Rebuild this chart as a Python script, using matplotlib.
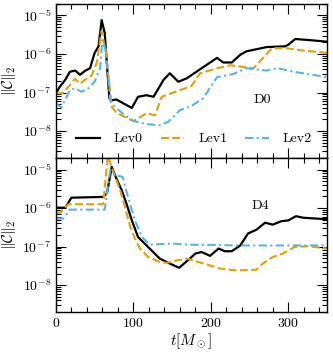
import numpy as np
import matplotlib
matplotlib.use("Agg")
import matplotlib.pyplot as plt
from matplotlib.ticker import MultipleLocator, LogLocator, NullFormatter

plt.rcParams['font.family'] = 'cmr10'
plt.rcParams['mathtext.fontset'] = 'cm'
plt.rcParams['axes.formatter.use_mathtext'] = True
plt.rcParams['font.size'] = 10

#colors for the three resolutions
c_lev0 = 'black'
c_lev1 = '#E69F00'
c_lev2 = '#56B4E9'

# D0 panel (log10 of constraint norm)
t_d0_lev0 = [0, 5, 12, 18, 25, 31, 38, 44, 50, 55, 59, 63, 66, 69, 72, 78, 87, 98, 106, 117,
             126, 139, 147, 158, 169, 188, 208, 216, 227, 238, 246, 272, 296, 300, 309, 328, 350]
log_d0_lev0 = [-7.02, -6.85, -6.67, -6.46, -6.43, -6.54, -6.43, -6.37, -5.97, -5.80, -5.12, -5.45,
               -6.32, -7.15, -7.20, -7.18, -7.28, -7.40, -7.11, -7.07, -7.11, -6.67, -6.50, -6.72,
               -6.63, -6.37, -6.10, -6.22, -6.22, -6.02, -5.93, -5.82, -5.80, -5.76, -5.61, -5.64, -5.68]

t_d0_lev1 = [0, 8, 18, 24.5, 31, 37.5, 46, 52.6, 59, 64.6, 72, 78.4, 100, 117, 128, 136.6,
             160, 175, 186, 208, 225, 255, 279, 298, 315, 350]
log_d0_lev1 = [-7.02, -7.02, -6.81, -6.64, -6.77, -6.67, -6.56, -6.23, -5.40, -5.97, -7.37, -7.53,
               -7.74, -7.54, -7.59, -7.11, -6.94, -6.83, -6.50, -6.37, -6.29, -6.37, -5.85, -5.85,
               -5.90, -5.97]

t_d0_lev2 = [0, 7, 18, 24.5, 33, 42, 50, 57, 60, 64.6, 70, 76, 89, 100, 117, 134, 145, 160,
             175, 190, 208, 229, 246, 272, 287, 307, 350]
log_d0_lev2 = [-7.28, -7.39, -6.94, -6.89, -6.98, -6.89, -6.72, -6.37, -5.64, -5.90, -7.21, -7.37,
               -7.59, -7.74, -7.82, -7.85, -7.76, -7.46, -7.35, -7.15, -6.60, -6.52, -6.37, -6.43,
               -6.37, -6.46, -6.60]

# D4 panel
t_d4_lev0 = [0, 12, 20, 61, 66, 72, 78, 85, 91, 98, 106, 121, 134, 147, 159, 173, 180, 188, 199,
             210, 218, 227, 238, 248, 259, 270, 280, 291, 300, 310, 319, 350]
log_d4_lev0 = [-5.99, -5.99, -5.73, -5.71, -5.61, -4.93, -5.23, -5.54, -5.88, -6.32, -6.75, -7.05,
               -7.31, -7.44, -7.55, -7.31, -7.18, -7.14, -7.24, -7.05, -7.12, -7.12, -6.97, -6.66,
               -6.56, -6.38, -6.43, -6.34, -6.32, -6.21, -6.25, -6.29]

t_d4_lev1 = [0, 5, 16, 61, 67, 74, 83, 89, 96, 102, 108.5, 119, 134, 143, 156, 169, 184, 199,
             212, 233, 259, 267, 280, 293, 308, 326, 350]
log_d4_lev1 = [-6.12, -6.12, -5.90, -5.90, -4.65, -5.06, -5.54, -5.97, -6.49, -6.79, -7.05, -7.27,
               -7.40, -7.42, -7.36, -7.31, -7.40, -7.49, -7.57, -7.62, -7.60, -7.44, -7.27, -7.18,
               -7.01, -6.99, -7.05]

t_d4_lev2 = [0, 9.5, 18, 63, 70, 78, 86, 93, 102, 111, 121, 150, 173, 238, 350]
log_d4_lev2 = [-6.27, -6.27, -6.04, -6.04, -5.02, -5.15, -5.19, -5.71, -6.32, -6.75, -6.95, -6.92,
               -6.95, -6.97, -6.97]

panels = [
    ('D0', t_d0_lev0, log_d0_lev0, t_d0_lev1, log_d0_lev1, t_d0_lev2, log_d0_lev2, (0.76, 0.377)),
    ('D4', t_d4_lev0, log_d4_lev0, t_d4_lev1, log_d4_lev1, t_d4_lev2, log_d4_lev2, (0.753, 0.69)),
]

fig, axes = plt.subplots(2, 1, figsize=(3.33, 3.55), dpi=100, sharex=True)
fig.subplots_adjust(left=0.168, right=0.982, top=0.989, bottom=0.121, hspace=0)

for ax, (name, t0, y0, t1, y1, t2, y2, txt_pos) in zip(axes, panels):
    ax.plot(t0, 10**np.array(y0), color=c_lev0, lw=1.6, ls='-', label='Lev0')
    ax.plot(t1, 10**np.array(y1), color=c_lev1, lw=1.5, ls=(0, (3.8, 1.6)), label='Lev1')
    ax.plot(t2, 10**np.array(y2), color=c_lev2, lw=1.5, ls=(0, (4, 1.6, 1, 1.6)), label='Lev2')
    ax.set_yscale('log')
    ax.set_ylim(2e-9, 2e-5)
    ax.set_xlim(0, 350)
    ax.yaxis.set_major_locator(LogLocator(base=10, numticks=10))
    ax.yaxis.set_minor_locator(LogLocator(base=10, subs=np.arange(2, 10), numticks=20))
    ax.yaxis.set_minor_formatter(NullFormatter())
    ax.xaxis.set_major_locator(MultipleLocator(100))
    ax.xaxis.set_minor_locator(MultipleLocator(20))
    ax.tick_params(which='both', direction='in', top=True, right=True, width=0.8)
    ax.tick_params(which='major', length=7)
    ax.tick_params(which='minor', length=3.5)
    for s in ax.spines.values():
        s.set_linewidth(1.0)
    ax.set_ylabel(r'$\|\mathcal{C}\|_2$', fontsize=11, labelpad=3)
    ax.text(txt_pos[0], txt_pos[1], name, transform=ax.transAxes, ha='center', va='center')

axes[0].legend(loc='center', bbox_to_anchor=(0.51, 0.123), ncol=3, frameon=False,
               handlelength=1.7, columnspacing=1.3, handletextpad=1.0, borderaxespad=0)
axes[1].set_xlabel(r'$t[M_\odot]$', fontsize=11, labelpad=1)

fig.savefig('out.png', dpi=100)
